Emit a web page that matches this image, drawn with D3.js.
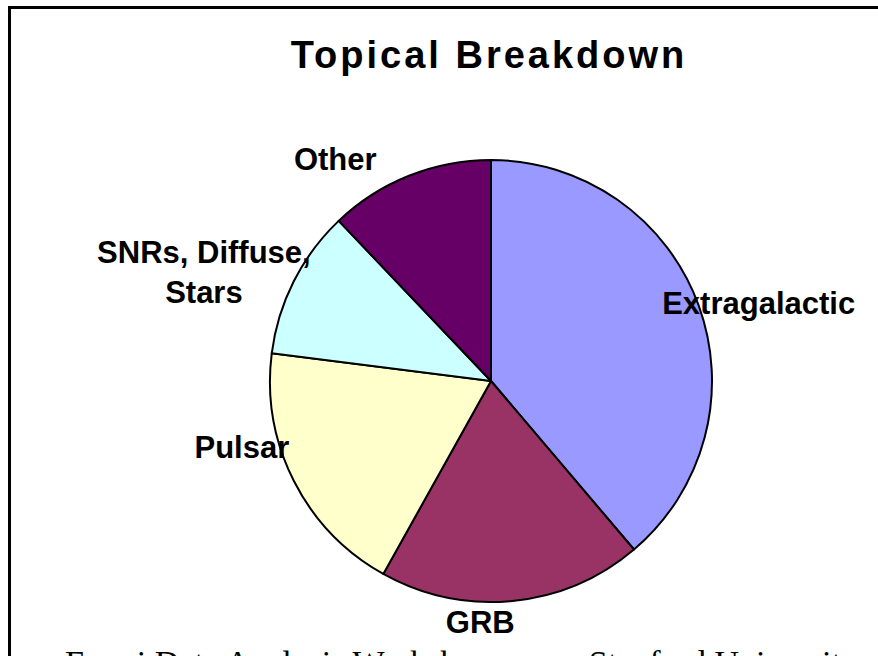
<!DOCTYPE html>
<html>
  <head>
    <meta charset="UTF-8">
    <style>
      body { margin: 0; background: #fff; }
      svg { display: block; }
    </style>
  </head>
  <body>
    <svg width="878" height="656" id="svgid"></svg>

    <script src="https://d3js.org/d3.v7.min.js"></script>
    <script>
      // slice data (share of topics, %)
      var topics = ["Extragalactic", "GRB", "Pulsar", "SNRs, Diffuse,|Stars", "Other"];
      var shares = [38.8, 19.3, 18.9, 10.9, 12.1];
      var colors = ["#9999ff", "#993366", "#ffffcc", "#ccffff", "#660066"];

      // label nudges away from the label ring (layout only)
      var nudge = [[33, 19], [-35, 3], [-26, -36], [-64, -5], [-63, 21]];

      var svg = d3.select("svg"),
          width = +svg.attr("width"),
          height = +svg.attr("height");

      var cx = 491, cy = 381, radius = 221;

      // frame around the chart (runs off right and bottom)
      svg.append("path")
          .attr("d", "M9.5," + (height + 5) + "V7.5H" + (width + 5))
          .attr("fill", "none")
          .attr("stroke", "#000")
          .attr("stroke-width", 3);

      svg.append("text")
          .attr("x", 489)
          .attr("y", 68)
          .attr("text-anchor", "middle")
          .attr("font-family", "Liberation Sans, Arial, sans-serif")
          .attr("font-weight", "bold")
          .attr("font-size", 38)
          .attr("letter-spacing", 3)
          .text("Topical Breakdown");

      var rows = topics.map(function(t, i) {
        return {name: t, value: shares[i], color: colors[i], nudge: nudge[i]};
      });

      var pie = d3.pie()
          .sort(null)
          .value(function(d) { return d.value; });

      var arc = d3.arc().innerRadius(0).outerRadius(radius);
      var labelArc = d3.arc().innerRadius(250).outerRadius(250);

      var g = svg.append("g")
          .attr("transform", "translate(" + cx + "," + cy + ")");

      var arcs = pie(rows);

      g.selectAll("path.slice")
        .data(arcs)
        .enter().append("path")
          .attr("class", "slice")
          .attr("d", arc)
          .attr("fill", function(d) { return d.data.color; })
          .attr("stroke", "#000")
          .attr("stroke-width", 2)
          .attr("stroke-linejoin", "round");

      var label = g.selectAll("text.label")
        .data(arcs)
        .enter().append("text")
          .attr("class", "label")
          .attr("text-anchor", "middle")
          .attr("font-family", "Liberation Sans, Arial, sans-serif")
          .attr("font-weight", "bold")
          .attr("font-size", 31)
          .attr("transform", function(d) {
            var c = labelArc.centroid(d);
            return "translate(" + (c[0] + d.data.nudge[0]) + "," + (c[1] + d.data.nudge[1]) + ")";
          });

      label.selectAll("tspan")
        .data(function(d) { return d.data.name.split("|"); })
        .enter().append("tspan")
          .attr("x", 0)
          .attr("y", function(d, i) { return i * 40; })
          .text(function(d) { return d; });

      // footer of the slide, mostly cut off by the bottom edge
      var foot = svg.append("g")
          .attr("font-family", "Liberation Serif, Times New Roman, serif")
          .attr("font-size", 34);
      foot.append("text")
          .attr("x", 65)
          .attr("y", 674)
          .text("Fermi Data Analysis Workshop");
      foot.append("text")
          .attr("x", 858)
          .attr("y", 674)
          .attr("text-anchor", "end")
          .text("Stanford University");
    </script>
  </body>
</html>
